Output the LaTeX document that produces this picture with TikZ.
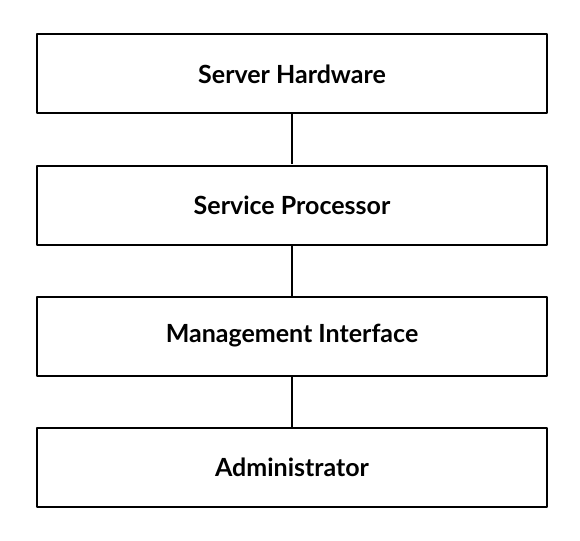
\documentclass[tikz,border=0pt]{standalone}
\usepackage{fontspec}
\setmainfont{Lato}
\usetikzlibrary{positioning}
\begin{document}
\begin{tikzpicture}[x=1pt, y=1pt, line join = round, font=\fontsize{25}{30}\selectfont\bfseries,
	layer/.style={draw, line width=2pt, minimum width=510pt, minimum height=79pt, inner sep=0pt},
	link/.style={line width=1.6pt}, node distance=50pt]
		\useasboundingbox (0,0) rectangle (580,-540);
		\node[layer] (hw) at (292,-74) {Server Hardware};
		\node[layer, below=of hw] (sp) {Service Processor};
		\node[layer, below=of sp] (mi) {Management Interface};
		\node[layer, below=of mi] (adm) {Administrator};
		\draw[link] (hw) -- (sp) (sp) -- (mi) (mi) -- (adm);
	\end{tikzpicture}
\end{document}
